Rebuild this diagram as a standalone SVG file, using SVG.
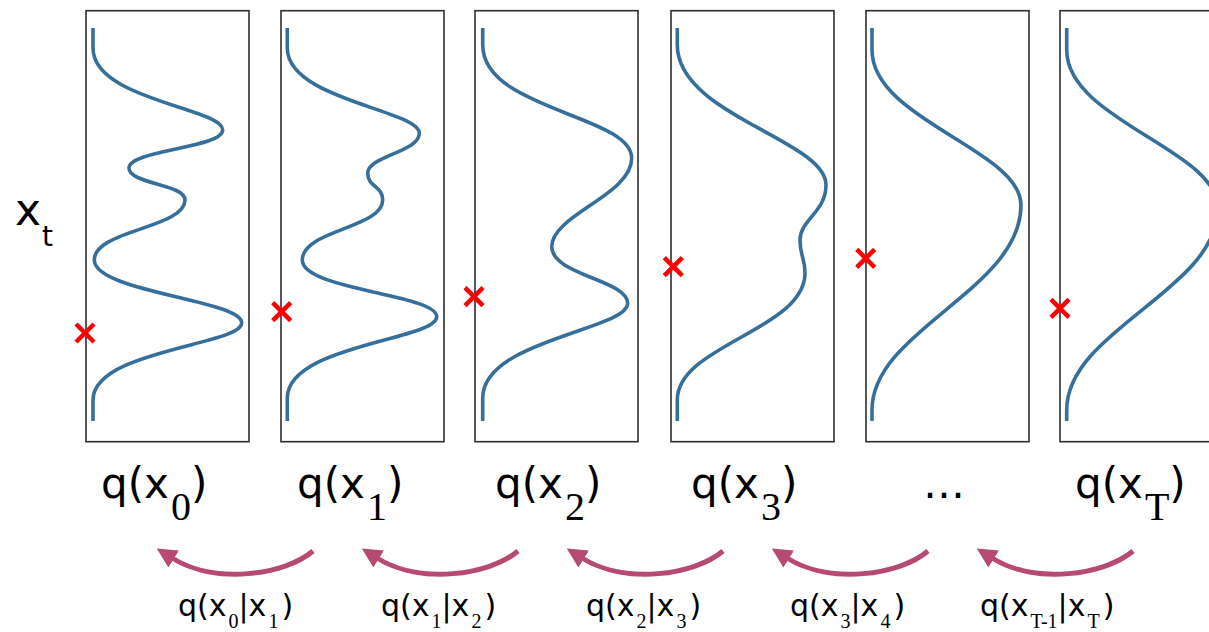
<svg xmlns="http://www.w3.org/2000/svg" width="1209" height="632" viewBox="0 0 1209 632">
<style>
.box{fill:none;stroke:#2f2f2f;stroke-width:1.6}
.pdf{fill:none;stroke:#366f9a;stroke-width:3.6;stroke-linecap:butt}
.mark{fill:none;stroke:#ff0000;stroke-width:4.5}
.arr{fill:none;stroke:#b74a72;stroke-width:5}
.lbl{font-family:"DejaVu Sans",sans-serif;font-size:42px;fill:#000}
.sub{font-family:"Liberation Serif",serif;font-size:40px}
.small{font-family:"DejaVu Sans",sans-serif;font-size:30px;fill:#000}
.ssub{font-family:"Liberation Serif",serif;font-size:20px}
</style>
<defs>
<marker id="ah" markerUnits="userSpaceOnUse" viewBox="0 0 20 20" markerWidth="20" markerHeight="20" refX="2" refY="10" orient="auto">
<path d="M0,0 L20,10 L0,20 z" fill="#b74a72"/>
</marker>
</defs>
<rect width="1209" height="632" fill="#ffffff"/>

<g id="axis-label">
<text class="lbl" x="15" y="225" style="font-size:44px">x</text>
<text class="lbl" x="42" y="246" style="font-size:28px">t</text>
</g>

<g id="panel-x0">
<rect class="box" x="86" y="10.7" width="163" height="431"/>
<path class="pdf" d="M93,28 L93,48 C93,100 222.7,108 222.7,130 C222.7,148 129,150 129,168 C129,184 185,184 185,200 C185,228 94.3,230 94.3,260 C94.3,292 241.7,300 241.7,323 C241.7,345 93,350 93,400 L93,421"/>
<path class="mark" d="M76,324 L94,342 M94,324 L76,342"/>
<text class="lbl" x="101" y="498">q(x<tspan class="sub" dx="2" y="520">0</tspan><tspan y="498">)</tspan></text>
</g>

<g id="panel-x1">
<rect class="box" x="281" y="10.7" width="163" height="431"/>
<path class="pdf" d="M287.3,28 L287.3,48 C287.3,100 419.3,110 419.3,133.3 C419.3,152 367.7,156 367.7,173.3 C367.7,187 382.7,186 382.7,200 C382.7,228 302.3,230 302.3,260 C302.3,290 436.7,294 436.7,316.7 C436.7,340 287.3,345 287.3,398 L287.3,421"/>
<path class="mark" d="M272.7,302.7 L290.7,320.7 M290.7,302.7 L272.7,320.7"/>
<text class="lbl" x="297" y="498">q(x<tspan class="sub" dx="2" y="520">1</tspan><tspan y="498">)</tspan></text>
</g>

<g id="panel-x2">
<rect class="box" x="475" y="10.7" width="163" height="431"/>
<path class="pdf" d="M482.7,28 L482.7,45 C482.7,110 631.7,115 631.7,158.3 C631.7,195 551.7,215 551.7,246.7 C551.7,275 627.7,280 627.7,303.3 C627.7,330 482.7,340 482.7,398 L482.7,421"/>
<path class="mark" d="M465,287.7 L483,305.7 M483,287.7 L465,305.7"/>
<text class="lbl" x="495" y="498">q(x<tspan class="sub" dx="2" y="520">2</tspan><tspan y="498">)</tspan></text>
</g>

<g id="panel-x3">
<rect class="box" x="671" y="10.7" width="163" height="431"/>
<path class="pdf" d="M677.3,28 L677.3,45 C677.3,115 826,140 826,185 C826,212 800,220 800,240 C800,256 805,258 805,273 C805,330 677.3,345 677.3,400 L677.3,421"/>
<path class="mark" d="M664.3,257.7 L682.3,275.7 M682.3,257.7 L664.3,275.7"/>
<text class="lbl" x="691" y="498">q(x<tspan class="sub" dx="2" y="520">3</tspan><tspan y="498">)</tspan></text>
</g>

<g id="panel-dots">
<rect class="box" x="866" y="10.7" width="163" height="431"/>
<path class="pdf" d="M872,28 L872,50 C872,120 1021,150 1021,205 C1021,290 872,330 872,410 L872,421"/>
<path class="mark" d="M856.7,249.3 L874.7,267.3 M874.7,249.3 L856.7,267.3"/>
<text class="lbl" x="923" y="498">…</text>
</g>

<g id="panel-xT">
<rect class="box" x="1060" y="10.7" width="163" height="431"/>
<path class="pdf" d="M1066.7,28 L1066.7,50 C1066.7,120 1218,150 1218,208 C1218,290 1066.7,330 1066.7,410 L1066.7,421"/>
<path class="mark" d="M1051,299.3 L1069,317.3 M1069,299.3 L1051,317.3"/>
<text class="lbl" x="1075" y="498">q(x<tspan class="sub" dx="2" y="520">T</tspan><tspan y="498">)</tspan></text>
</g>

<g id="connectors">
<path class="arr" marker-end="url(#ah)" d="M313,551 C285,575 215,585 172,558"/>
<path class="arr" marker-end="url(#ah)" d="M518,551 C490,575 420,585 377,558"/>
<path class="arr" marker-end="url(#ah)" d="M723,551 C695,575 625,585 582,558"/>
<path class="arr" marker-end="url(#ah)" d="M928,551 C900,575 830,585 787,558"/>
<path class="arr" marker-end="url(#ah)" d="M1133,551 C1105,575 1035,585 992,558"/>
</g>

<g id="connector-labels">
<text class="small" x="178" y="616">q(x<tspan class="ssub" dx="2" y="628">0</tspan><tspan y="616">|x</tspan><tspan class="ssub" dx="2" y="628">1</tspan><tspan y="616" dx="3">)</tspan></text>
<text class="small" x="381" y="616">q(x<tspan class="ssub" dx="2" y="628">1</tspan><tspan y="616">|x</tspan><tspan class="ssub" dx="2" y="628">2</tspan><tspan y="616" dx="3">)</tspan></text>
<text class="small" x="586" y="616">q(x<tspan class="ssub" dx="2" y="628">2</tspan><tspan y="616">|x</tspan><tspan class="ssub" dx="2" y="628">3</tspan><tspan y="616" dx="3">)</tspan></text>
<text class="small" x="790" y="616">q(x<tspan class="ssub" dx="2" y="628">3</tspan><tspan y="616">|x</tspan><tspan class="ssub" dx="2" y="628">4</tspan><tspan y="616" dx="3">)</tspan></text>
<text class="small" x="980" y="616">q(x<tspan class="ssub" dx="2" y="628">T-1</tspan><tspan y="616">|x</tspan><tspan class="ssub" dx="2" y="628">T</tspan><tspan y="616" dx="3">)</tspan></text>
</g>
</svg>
